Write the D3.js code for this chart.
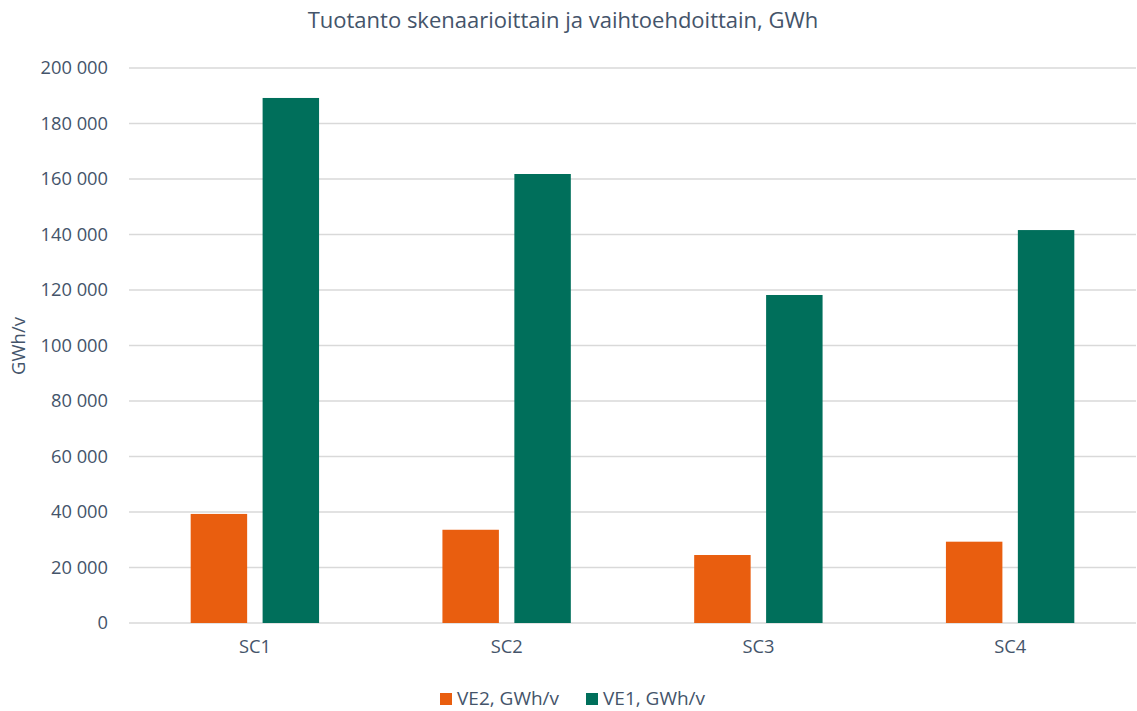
<!DOCTYPE html>
<html>
<head>
<meta charset="utf-8">
<script src="https://cdn.jsdelivr.net/npm/d3@7"></script>
<style>
  body { margin: 0; background: #fff; }
  text { font-family: "Open Sans", "Noto Sans", sans-serif; fill: #44546a; }
</style>
</head>
<body>
<div id="chart"></div>
<script>
// data
const categories = ["SC1", "SC2", "SC3", "SC4"];
const seriesNames = ["VE2, GWh/v", "VE1, GWh/v"];
const ve2Values = [39300, 33600, 24500, 29300];
const ve1Values = [189200, 161800, 118200, 141600];
const yTicks = [0, 20000, 40000, 60000, 80000, 100000, 120000, 140000, 160000, 180000, 200000];
const colors = ["#e95e0f", "#006f5b"];

const W = 1137, H = 711;
const margin = { top: 68, right: 1, bottom: 88, left: 129 };
const width = W - margin.left - margin.right;
const height = H - margin.top - margin.bottom;

const svg = d3.select("#chart").append("svg")
    .attr("width", W)
    .attr("height", H);

const g = svg.append("g")
    .attr("transform", `translate(${margin.left},${margin.top})`);

// scales
const x0 = d3.scaleBand()
    .domain(categories)
    .range([0, width])
    .paddingInner(0.49)
    .paddingOuter(0.245);

const x1 = d3.scaleBand()
    .domain(seriesNames)
    .range([0, x0.bandwidth()])
    .paddingInner(0.215);

const y = d3.scaleLinear()
    .domain([0, 200000])
    .range([height, 0]);

const fmt = v => d3.format(",")(v).replace(/,/g, " ");

// gridlines
g.append("g")
    .selectAll("line")
    .data(yTicks)
    .join("line")
    .attr("x1", 0)
    .attr("x2", width)
    .attr("y1", d => y(d))
    .attr("y2", d => y(d))
    .attr("stroke", "#d9d9d9")
    .attr("stroke-width", 1.3);

// y axis labels
const yAxisG = g.append("g")
    .call(d3.axisLeft(y).tickValues(yTicks).tickFormat(fmt).tickSize(0).tickPadding(21));
yAxisG.select(".domain").remove();
yAxisG.selectAll("text")
    .style("font-size", "18.3px")
    .attr("fill", "#44546a");

// x axis labels
const xAxisG = g.append("g")
    .attr("transform", `translate(0,${height})`)
    .call(d3.axisBottom(x0).tickSize(0).tickPadding(17));
xAxisG.select(".domain").remove();
xAxisG.selectAll("text")
    .style("font-size", "18.3px")
    .attr("fill", "#44546a");

// bars
const rows = categories.map((c, i) => ({ cat: c, vals: [ve2Values[i], ve1Values[i]] }));

g.append("g")
    .selectAll("g")
    .data(rows)
    .join("g")
    .attr("transform", d => `translate(${x0(d.cat)},0)`)
    .selectAll("rect")
    .data(d => d.vals.map((v, j) => ({ key: seriesNames[j], value: v, color: colors[j] })))
    .join("rect")
    .attr("x", d => x1(d.key))
    .attr("y", d => y(d.value))
    .attr("width", x1.bandwidth())
    .attr("height", d => y(0) - y(d.value))
    .attr("fill", d => d.color);

// title
svg.append("text")
    .attr("x", 563)
    .attr("y", 28)
    .attr("text-anchor", "middle")
    .style("font-size", "22px")
    .text("Tuotanto skenaarioittain ja vaihtoehdoittain, GWh");

// y axis title
svg.append("text")
    .attr("transform", `translate(25,346) rotate(-90)`)
    .attr("text-anchor", "middle")
    .style("font-size", "18.5px")
    .text("GWh/v");

// legend
const legend = svg.append("g")
    .attr("transform", "translate(440,693)");

const legendX = [0, 146];
seriesNames.forEach((name, i) => {
    const item = legend.append("g").attr("transform", `translate(${legendX[i]},0)`);
    item.append("rect")
        .attr("width", 12)
        .attr("height", 12)
        .attr("fill", colors[i]);
    item.append("text")
        .attr("x", 17)
        .attr("y", 12)
        .style("font-size", "19px")
        .text(name);
});
</script>
</body>
</html>
